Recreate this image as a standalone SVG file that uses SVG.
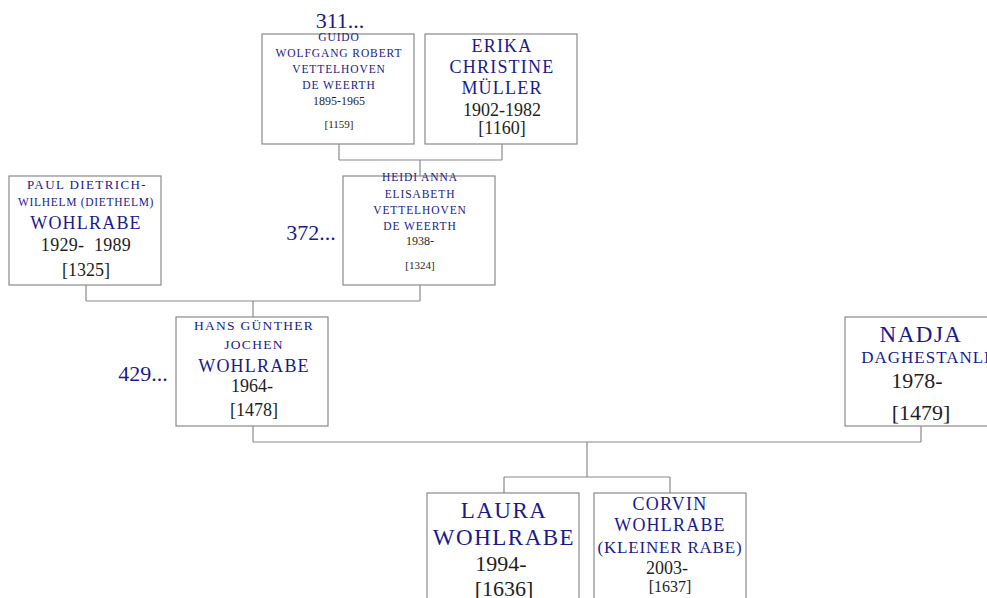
<svg xmlns="http://www.w3.org/2000/svg" width="987" height="598" viewBox="0 0 987 598">
<style>
.box{fill:#fff;stroke:#8a8a8a;stroke-width:1.2}
.ln{fill:none;stroke:#8a8a8a;stroke-width:1.2}
text{font-family:"Liberation Serif","DejaVu Serif",serif;text-anchor:middle}
.n{fill:#1a1a8c}
.d{fill:#1e1e1e}
.ref{fill:#1a1a8c;font-size:22px}
.s{font-size:11.5px;letter-spacing:0.9px}
</style>
<rect width="987" height="598" fill="#fff"/>
<g id="connectors">
<path class="ln" d="M339 144V160M502 144V160M339 160H502M420 160V176"/>
<path class="ln" d="M86 285V301M420 285V301M86 301H420M253 301V317"/>
<path class="ln" d="M253 426V442M921 426V442M253 442H921M587 442V477M504 477H670M504 477V493M670 477V493"/>
</g>
<g id="guido">
<rect class="box" x="262" y="34" width="152" height="110"/>
<text class="ref" x="340" y="28">311...</text>
<text class="n s" x="339" y="41">GUIDO</text>
<text class="n s" x="339" y="57">WOLFGANG ROBERT</text>
<text class="n s" x="339" y="73">VETTELHOVEN</text>
<text class="n s" x="339" y="89">DE WEERTH</text>
<text class="d" x="339" y="105" font-size="12">1895-1965</text>
<text class="d" x="339" y="128" font-size="11">[1159]</text>
</g>
<g id="erika">
<rect class="box" x="425" y="34" width="152" height="110"/>
<text class="n" x="502" y="52" font-size="18" letter-spacing="1.2">ERIKA</text>
<text class="n" x="502" y="73" font-size="18" letter-spacing="1.2">CHRISTINE</text>
<text class="n" x="502" y="94" font-size="18" letter-spacing="1.2">MÜLLER</text>
<text class="d" x="502" y="116" font-size="18">1902-1982</text>
<text class="d" x="502" y="134" font-size="18">[1160]</text>
</g>
<g id="paul">
<rect class="box" x="9" y="176" width="152" height="109"/>
<text class="n" x="87" y="189" font-size="13" letter-spacing="1.4">PAUL DIETRICH-</text>
<text class="n" x="86" y="206" font-size="11.5" letter-spacing="0.7">WILHELM (DIETHELM)</text>
<text class="n" x="86" y="229" font-size="18" letter-spacing="1.2">WOHLRABE</text>
<text class="d" x="86" y="251" font-size="18" letter-spacing="0.3" xml:space="preserve">1929-  1989</text>
<text class="d" x="86" y="276" font-size="18">[1325]</text>
</g>
<g id="heidi">
<rect class="box" x="343" y="176" width="152" height="109"/>
<text class="ref" x="311" y="240">372...</text>
<text class="n s" x="420" y="181">HEIDI ANNA</text>
<text class="n s" x="420" y="198">ELISABETH</text>
<text class="n s" x="420" y="214">VETTELHOVEN</text>
<text class="n s" x="420" y="230">DE WEERTH</text>
<text class="d" x="420" y="245" font-size="12">1938-</text>
<text class="d" x="420" y="269" font-size="11">[1324]</text>
</g>
<g id="hans">
<rect class="box" x="176" y="317" width="152" height="109"/>
<text class="ref" x="143" y="381">429...</text>
<text class="n" x="254" y="330" font-size="13.5" letter-spacing="1.3">HANS GÜNTHER</text>
<text class="n" x="254" y="349" font-size="13.5" letter-spacing="1.3">JOCHEN</text>
<text class="n" x="254" y="372" font-size="18" letter-spacing="1.2">WOHLRABE</text>
<text class="d" x="252" y="392" font-size="18">1964-</text>
<text class="d" x="254" y="416" font-size="18">[1478]</text>
</g>
<g id="nadja">
<rect class="box" x="845" y="317" width="152" height="109"/>
<text class="n" x="921" y="342" font-size="23" letter-spacing="1.5">NADJA</text>
<text class="n" x="926" y="363" font-size="17" letter-spacing="1">DAGHESTANLI</text>
<text class="d" x="917" y="388" font-size="22">1978-</text>
<text class="d" x="921" y="420" font-size="22">[1479]</text>
</g>
<g id="laura">
<rect class="box" x="427" y="493" width="152" height="115"/>
<text class="n" x="504" y="518" font-size="23" letter-spacing="1.5">LAURA</text>
<text class="n" x="504" y="545" font-size="23" letter-spacing="1.5">WOHLRABE</text>
<text class="d" x="501" y="571" font-size="22">1994-</text>
<text class="d" x="504" y="596" font-size="22">[1636]</text>
</g>
<g id="corvin">
<rect class="box" x="594" y="493" width="152" height="115"/>
<text class="n" x="670" y="510" font-size="18" letter-spacing="1.2">CORVIN</text>
<text class="n" x="670" y="531" font-size="18" letter-spacing="1.2">WOHLRABE</text>
<text class="n" x="670" y="553" font-size="17" letter-spacing="0.8">(KLEINER RABE)</text>
<text class="d" x="667" y="574" font-size="18">2003-</text>
<text class="d" x="670" y="592" font-size="16">[1637]</text>
</g>
</svg>
